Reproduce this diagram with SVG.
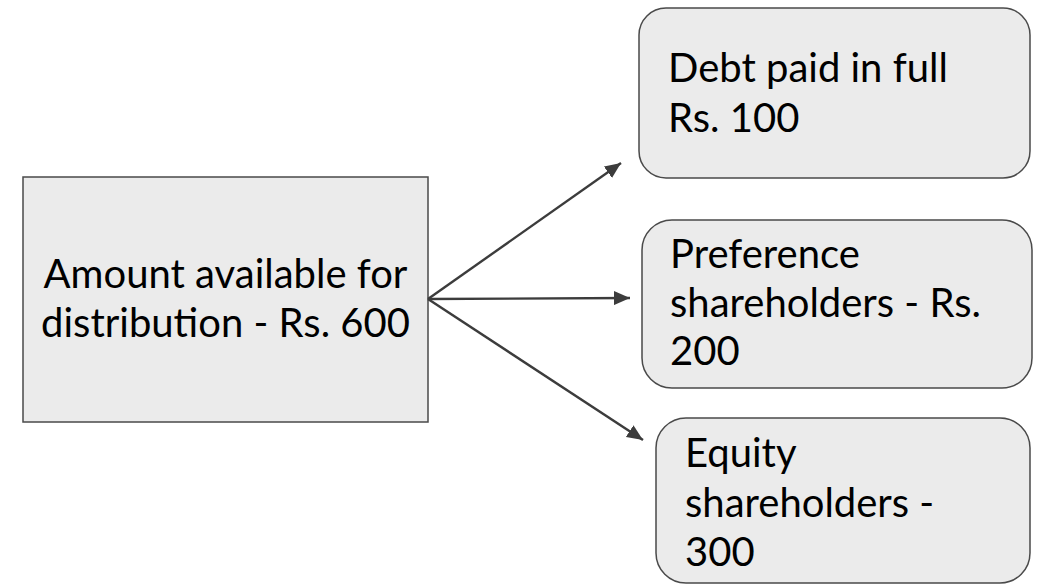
<svg xmlns="http://www.w3.org/2000/svg" width="1040" height="584" viewBox="0 0 1040 584">
<style>
.box{fill:#ebebeb;stroke:#4a4a4a;stroke-width:1.5}
.t{font-family:Lato,"Open Sans","Liberation Sans",sans-serif;font-size:40px;fill:#000}
.c{fill:none;stroke:#3c3c3c;stroke-width:2.4}
</style>
<defs>
<marker id="ah" viewBox="0 0 16 14" refX="16" refY="7" markerWidth="16" markerHeight="14" markerUnits="userSpaceOnUse" orient="auto">
<path d="M0,0 L16,7 L0,14 Z" fill="#3c3c3c"/>
</marker>
</defs>
<rect width="1040" height="584" fill="#fff"/>
<g id="source">
<rect class="box" x="23" y="177" width="405" height="245"/>
<text class="t" x="225.5" y="288" text-anchor="middle">Amount available for</text>
<text class="t" x="225.5" y="337" text-anchor="middle">distribution - Rs. 600</text>
</g>
<g id="debt">
<rect class="box" x="639" y="8" width="391" height="170" rx="27" ry="27"/>
<text class="t" x="668" y="82">Debt paid in full</text>
<text class="t" x="668" y="132">Rs. 100</text>
</g>
<g id="preference">
<rect class="box" x="642" y="220" width="390" height="168" rx="30" ry="30"/>
<text class="t" x="670" y="268">Preference</text>
<text class="t" x="670" y="317">shareholders - Rs.</text>
<text class="t" x="670" y="365">200</text>
</g>
<g id="equity">
<rect class="box" x="656" y="418" width="374" height="165" rx="30" ry="30"/>
<text class="t" x="685" y="467">Equity</text>
<text class="t" x="685" y="517">shareholders -</text>
<text class="t" x="685" y="566">300</text>
</g>
<g id="connectors">
<line class="c" x1="428" y1="299" x2="621" y2="163" marker-end="url(#ah)"/>
<line class="c" x1="428" y1="299" x2="630" y2="298" marker-end="url(#ah)"/>
<line class="c" x1="428" y1="299" x2="643" y2="440" marker-end="url(#ah)"/>
</g>
</svg>
